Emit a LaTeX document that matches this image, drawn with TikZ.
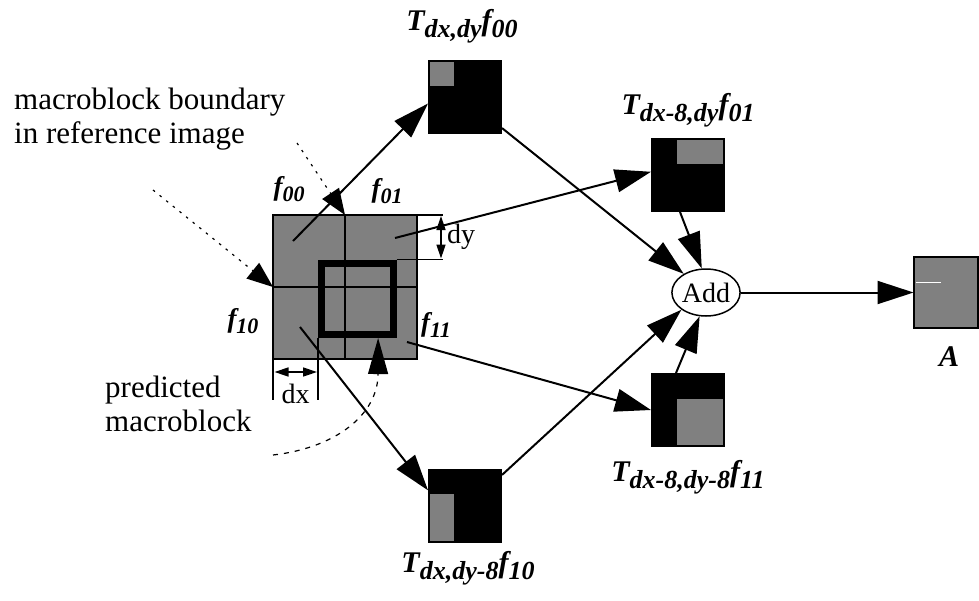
\documentclass[tikz,border=0pt]{standalone}
\usepackage{fontspec}
\setmainfont{Liberation Serif}
\usetikzlibrary{arrows.meta,calc,shapes.geometric}

\definecolor{blockgray}{gray}{0.5}

% transformed-block label: T_{sub1} f_{sub2}
\newcommand{\Tlab}[2]{{\bfseries\itshape\fontsize{30}{30}\selectfont T\raisebox{-7pt}{\fontsize{26}{26}\selectfont #1}f\raisebox{-7pt}{\fontsize{26}{26}\selectfont #2}}}
% quadrant label: f_{sub}
\newcommand{\flab}[1]{{\bfseries\itshape\fontsize{27}{27}\selectfont f\raisebox{-6pt}{\fontsize{22}{22}\selectfont #1}}}

\begin{document}
\begin{tikzpicture}[x=1pt,y=-1pt,
  arr/.style={line width=2pt,-{Triangle[length=36pt,width=23pt]}},
  dimarr/.style={line width=1.5pt,{Triangle[length=14pt,width=9pt]}-{Triangle[length=14pt,width=9pt]}},
  dotlink/.style={line width=1.2pt,dash pattern=on 2.5pt off 6pt,-{Triangle[length=26pt,width=20pt]}},
  dashlink/.style={line width=1.2pt,dash pattern=on 5pt off 6pt,-{Triangle[length=36pt,width=20pt]}},
  blk/.style={rectangle,fill=black,minimum width=74pt,minimum height=74pt,inner sep=0pt,outer sep=0pt},
  txt/.style={font=\fontsize{31}{34}\selectfont,inner sep=0pt,align=left},
  dimtxt/.style={font=\fontsize{28}{28}\selectfont,inner sep=0pt}]

\fill[white] (0,0) rectangle (979,600);
\useasboundingbox (0,0) rectangle (979,600);

% reference macroblock with its four quadrants
\node[rectangle,fill=blockgray,draw,line width=2pt,minimum size=144pt,inner sep=0pt,outer sep=0pt] (grid) at (345,287) {};
\draw[line width=1.7pt] (grid.north) -- (grid.south) (grid.west) -- (grid.east);
% predicted macroblock
\node[rectangle,draw,line width=7pt,minimum size=71.5pt,inner sep=0pt,outer sep=3.5pt] (pred) at (357.25,298.75) {};

% quadrant labels
\node[anchor=base,inner sep=0pt] (f00) at (289,195) {\flab{00}};
\node[anchor=base,inner sep=0pt] (f01) at (387,197) {\flab{01}};
\node[anchor=base,inner sep=0pt] (f10) at (243,327) {\flab{10}};
\node[anchor=base,inner sep=0pt] (f11) at (436,331) {\flab{11}};

% dy dimension
\coordinate (dytopend) at (443,215);
\coordinate (dybotend) at (443,259.5);
\draw[line width=1.5pt] (grid.north east) -- (dytopend) (pred.north east) -- (dybotend);
\coordinate (dya) at (441,216);
\coordinate (dyb) at (441,258.5);
\draw[dimarr] (dya) -- (dyb);
\node[dimtxt,anchor=base west] (dylab) at (447,243) {dy};

% dx dimension
\coordinate (dxlend) at (273,400);
\coordinate (dxrend) at (318,400);
\draw[line width=1.5pt] (grid.south west) -- (dxlend) (pred.south west) -- (dxrend);
\coordinate (dxa) at (274.5,372);
\coordinate (dxb) at (317,372);
\draw[dimarr] (dxa) -- (dxb);
\node[dimtxt,anchor=base] (dxlab) at (295.5,403) {dx};

% transformed blocks
\node[blk] (T00) at (465,97) {};
\node[blk] (T01) at (688,175) {};
\node[blk] (T11) at (688,410) {};
\node[blk] (T10) at (465,506) {};
\fill[blockgray] ($(T00.north west)+(2,2)$) rectangle ($(T00.north west)+(26,26)$);
\fill[blockgray] ($(T01.north west)+(26,2)$) rectangle ($(T01.north west)+(72,26)$);
\fill[blockgray] ($(T11.north west)+(26,26)$) rectangle ($(T11.north west)+(72,72)$);
\fill[blockgray] ($(T10.north west)+(2,25)$) rectangle ($(T10.north west)+(26,72)$);

\node[anchor=base,inner sep=0pt] (lT00) at (462,30) {\Tlab{dx,dy}{00}};
\node[anchor=base,inner sep=0pt] (lT01) at (688,114) {\Tlab{dx-8,dy}{01}};
\node[anchor=base,inner sep=0pt] (lT11) at (688,481) {\Tlab{dx-8,dy-8}{11}};
\node[anchor=base,inner sep=0pt] (lT10) at (468,572) {\Tlab{dx,dy-8}{10}};

% adder and result block
\node[ellipse,draw,line width=1.5pt,minimum width=64pt,minimum height=47pt,inner sep=0pt,font=\fontsize{28}{28}\selectfont] (add) at (706,292.5) {Add};
\node[rectangle,fill=blockgray,draw,line width=2pt,minimum width=64pt,minimum height=71pt,inner sep=0pt,outer sep=0pt] (A) at (945.5,292.5) {};
\draw[white,line width=1pt] ($(A.north west)+(2,25)$) -- ($(A.north west)+(27,25)$);
\node[anchor=base,inner sep=0pt,font=\bfseries\itshape\fontsize{30}{30}\selectfont] (Alab) at (949,366) {A};

% annotations
\node[txt,anchor=base west] (mbtxt) at (14,143) {macroblock boundary\\in reference image};
\node[txt,anchor=base west] (pmtxt) at (105,431) {predicted\\macroblock};
\coordinate (mbend) at (297,143);
\coordinate (mbmid) at (153,190);
\coordinate (pmend) at (273,455);
\draw[dotlink] (mbend) -- (grid.north);
\draw[dotlink] (mbmid) -- (grid.west);
\draw[dashlink] (pmend) .. controls (335,448) and (378,415) .. (pred.-62);

% data flow
\coordinate (p00) at (293,241);
\coordinate (p01) at (395,238);
\coordinate (p10) at (300,327);
\coordinate (p11) at (407,342);
\draw[arr] (p00) -- (T00.190);
\draw[arr] (p01) -- (T01.175);
\draw[arr] (p10) -- (T10.157);
\draw[arr] (p11) -- (T11.west);
\draw[arr] (T00.-40) -- (add.140);
\draw[arr] ($(T01.south)+(-8,0)$) -- (add.100);
\draw[arr] (T10.40) -- (add.215);
\draw[arr] ($(T11.north)+(-12,0)$) -- (add.255);
\draw[arr] (add) -- (A.west);
\end{tikzpicture}
\end{document}
